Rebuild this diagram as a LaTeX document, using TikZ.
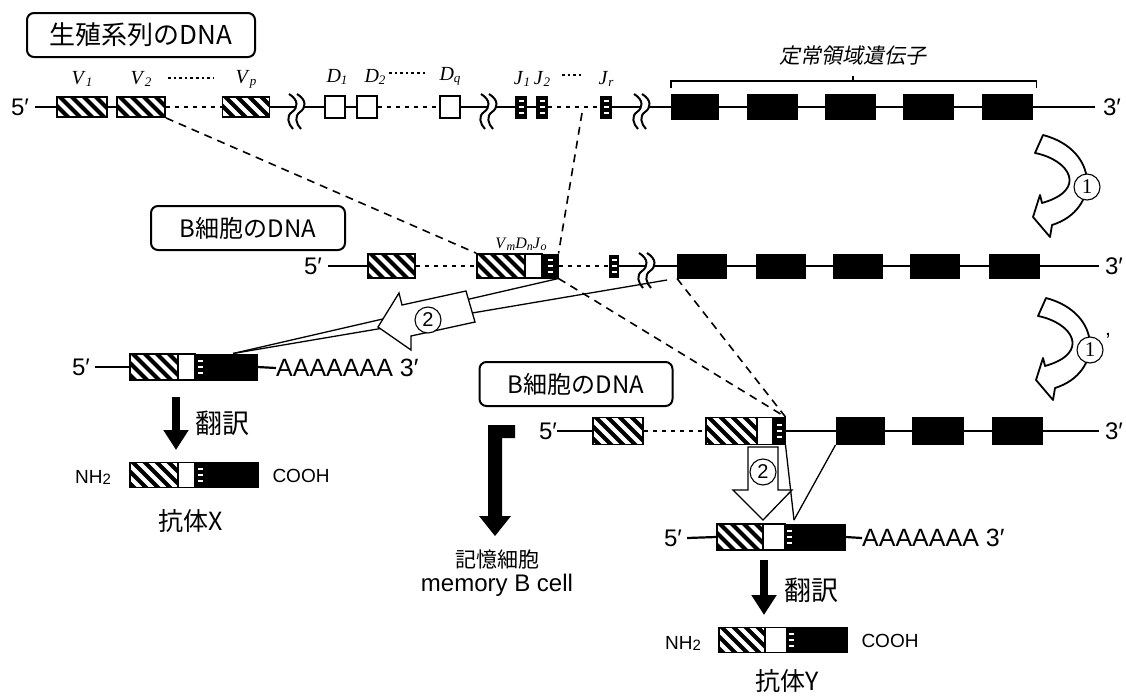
\documentclass[tikz,border=0pt]{standalone}
\usepackage{fontspec}
\setmainfont{Liberation Serif}
\newfontfamily\jp{Noto Sans CJK JP}
\newfontfamily\jpit{Noto Sans CJK JP}[FakeSlant=0.2]
\newfontfamily\ar{Liberation Sans}
\usetikzlibrary{arrows.meta}
\newcommand\fsz[1]{\fontsize{#1}{#1}\selectfont}
\newcommand\lb[3]{\textit{#1}\raisebox{-2pt}{\fsz{#3}\textit{#2}}}
\tikzset{
 brk/.pic={
  \fill[white] (-3,-14) .. controls (7,-8) and (6,0) .. (0,4) .. controls (-6,8) and (-4,16) .. (1,21) -- (9,21) .. controls (4,16) and (2,8) .. (8,4) .. controls (14,0) and (15,-8) .. (5,-14) -- cycle;
  \draw[line width=2pt] (-3,-14) .. controls (7,-8) and (6,0) .. (0,4) .. controls (-6,8) and (-4,16) .. (1,21);
  \draw[line width=2pt] (5,-14) .. controls (15,-8) and (14,0) .. (8,4) .. controls (2,8) and (4,16) .. (9,21);
 },
 bend/.pic={
  \draw[line width=1.8pt, fill=white, line join=round] (8,-50) -- (0,-32) .. controls (35,-25) and (53,5) .. (7,18) -- (5,10) -- (-2,32) -- (15,52) -- (17,40) .. controls (65,25) and (65,-35) .. (8,-50) -- cycle;
 }
}
\begin{document}
\begin{tikzpicture}[x=1pt,y=-1pt,
 every node/.style={inner sep=0pt},
 dna/.style={line width=2.2pt},
 dots/.style={line width=2.6pt, dash pattern=on 4pt off 5pt},
 ldots/.style={line width=2.8pt, dash pattern=on 2.6pt off 3pt},
 guide/.style={line width=1.6pt, dash pattern=on 8pt off 6pt},
 fine/.style={line width=1.3pt},
 blk/.style={draw, fill=black, line width=1pt},
 wht/.style={draw, fill=white, line width=1.8pt},
 hat/.style={wht, path picture={
   \foreach \k in {-4,...,9}{
     \draw[line width=4pt] ([xshift=\k*12pt, yshift=3pt]path picture bounding box.north west) -- ++(32pt,-32pt);
   }}},
 jb/.style={blk, path picture={
   \foreach \k in {-1,0,1}{
     \fill[white] ([xshift=-2.5pt,yshift={\k*6pt-1.3pt}]path picture bounding box.center) rectangle ++(5pt,2.8pt);
   }}},
 lab/.style={draw, line width=2pt, rounded corners=7pt, font=\jp\fsz{24}},
 pr/.style={font=\ar\fsz{24}},
 vl/.style={font=\fsz{20}},
 circ/.style={circle, draw, fill=white, line width=1.1pt, minimum size=26pt, font=\ar\fsz{20}},
 trans/.style={line width=8pt, -{Triangle[width=24pt,length=20pt]}},
 hollow/.style={draw, fill=white, line width=1.3pt, line join=miter},
]
\useasboundingbox (0,0) rectangle (1126,696);

% ---------- labels in boxes
\node[lab, minimum width=228, minimum height=44, font=\jp\fsz{26}] (g) at (141,35) {生殖系列のDNA};
\node[lab, minimum width=194, minimum height=44] (bc1) at (248,228) {B細胞のDNA};
\node[lab, minimum width=193, minimum height=44] (bc2) at (576,384) {B細胞のDNA};

% ---------- row 1 (germline)
\node[pr] (f1) at (20,107) {5′};
\node[hat, minimum width=50, minimum height=20] (v1) at (82,107) {};
\node[hat, minimum width=48, minimum height=20] (v2) at (141,107) {};
\node[hat, minimum width=47, minimum height=20] (vp) at (246,107) {};
\node[wht, minimum width=20, minimum height=22] (d1) at (335,107) {};
\node[wht, minimum width=20, minimum height=22] (d2) at (367,107) {};
\node[wht, minimum width=20, minimum height=22] (dq) at (450,107) {};
\node[jb, minimum width=11, minimum height=22] (j1) at (521,107) {};
\node[jb, minimum width=11, minimum height=22] (j2) at (542,107) {};
\coordinate (jo) at (582,107);
\node[jb, minimum width=11, minimum height=22] (jr) at (606,107) {};
\node[blk, minimum width=47, minimum height=25] (c11) at (695,107) {};
\node[blk, minimum width=50, minimum height=25] (c12) at (772,107) {};
\node[blk, minimum width=50, minimum height=25] (c13) at (850,107) {};
\node[blk, minimum width=50, minimum height=25] (c14) at (928,107) {};
\node[blk, minimum width=50, minimum height=25] (c15) at (1007,107) {};
\node[pr] (t1) at (1112,107) {3′};

\draw[dna] ([xshift=6pt]f1.east) -- (v1.west);
\draw[dna] (v1.east) -- (v2.west);
\draw[dots] (v2.east) -- (vp.west);
\draw[dna] (vp.east) -- (d1.west);
\draw[dna] (d1.east) -- (d2.west);
\draw[dots] (d2.east) -- (dq.west);
\draw[dna] (dq.east) -- (j1.west);
\draw[dna] (j1.east) -- (j2.west);
\draw[dots] (j2.east) -- (jr.west);
\draw[dna] (jr.east) -- (c11.west);
\draw[dna] (c11.east) -- (c12.west);
\draw[dna] (c12.east) -- (c13.west);
\draw[dna] (c13.east) -- (c14.west);
\draw[dna] (c14.east) -- (c15.west);
\draw[dna] (c15.east) -- ([xshift=-8pt]t1.west);
\pic at (292,108) {brk};
\pic at (484,108) {brk};
\pic at (637,108) {brk};

% labels row 1
\node[vl] (lv1) at (82,79) {\lb{V}{1}{13}};
\node[vl] (lv2) at (141,79) {\lb{V}{2}{13}};
\node[vl] (lvp) at (246,79) {\lb{V}{p}{13}};
\node[vl] (ld1) at (337,77) {\lb{D}{1}{13}};
\node[vl] (ld2) at (375,77) {\lb{D}{2}{13}};
\node[vl] (ldq) at (450,76) {\lb{D}{q}{13}};
\node[vl] (lj1) at (522,79) {\lb{J}{1}{13}};
\node[vl] (lj2) at (542,79) {\lb{J}{2}{13}};
\node[vl] (ljr) at (606,79) {\lb{J}{r}{13}};
\draw[ldots] (168,78) -- (214,78);
\draw[ldots] (389,73) -- (428,73);
\draw[ldots] (562,75) -- (584,75);
\draw[line width=1.1pt] ([yshift=6pt]c11.north west) -- ([yshift=13pt]c11.north west) -- ([yshift=13pt,xshift=4pt]c15.north east) -- ([yshift=6pt,xshift=4pt]c15.north east);
\draw[line width=1.1pt] (853,82) -- (853,76);
\node[font=\jpit\fsz{21}] (cl) at (853,56) {定常領域遺伝子};

% ---------- row 2 (B cell)
\node[pr] (f2) at (313,266) {5′};
\node[hat, minimum width=47, minimum height=24] (r1) at (391.5,266) {};
\node[hat, minimum width=48, minimum height=24] (vm) at (501,266) {};
\node[wht, minimum width=17, minimum height=24] (dn) at (533.5,266) {};
\node[jb, minimum width=16, minimum height=24] (jo2) at (550,266) {};
\node[jb, minimum width=9, minimum height=22] (jr2) at (614,266) {};
\node[blk, minimum width=49, minimum height=24] (c21) at (702,266) {};
\node[blk, minimum width=49, minimum height=24] (c22) at (781,266) {};
\node[blk, minimum width=49, minimum height=24] (c23) at (857.5,266) {};
\node[blk, minimum width=49, minimum height=24] (c24) at (935,266) {};
\node[blk, minimum width=50, minimum height=24] (c25) at (1014.5,266) {};
\node[pr] (t2) at (1114,266) {3′};
\node[font=\fsz{16}] (lvdj) at (521,244) {\lb{V}{m}{12}\lb{D}{n}{12}\lb{J}{o}{12}};

\draw[dna] ([xshift=6pt]f2.east) -- (r1.west);
\draw[dots] (r1.east) -- (vm.west);
\draw[dots] (jo2.east) -- (jr2.west);
\draw[dna] (jr2.east) -- (c21.west);
\draw[dna] (c21.east) -- (c22.west);
\draw[dna] (c22.east) -- (c23.west);
\draw[dna] (c23.east) -- (c24.west);
\draw[dna] (c24.east) -- (c25.west);
\draw[dna] (c25.east) -- ([xshift=-6pt]t2.west);
\pic at (642,267) {brk};

% ---------- row 3 (B cell)
\node[pr] (f3) at (548,431) {5′};
\node[hat, minimum width=50, minimum height=27] (s1) at (618,431) {};
\node[hat, minimum width=51, minimum height=27] (vm3) at (731.5,431) {};
\node[wht, minimum width=16, minimum height=27] (dn3) at (765,431) {};
\node[jb, minimum width=12, minimum height=27] (jo3) at (779,431) {};
\node[blk, minimum width=48, minimum height=27] (c31) at (860,431) {};
\node[blk, minimum width=51, minimum height=27] (c32) at (937.5,431) {};
\node[blk, minimum width=50, minimum height=27] (c33) at (1017,431) {};
\node[pr] (t3) at (1114,431) {3′};
\draw[dna] (f3.east) -- (s1.west);
\draw[dots] (s1.east) -- (vm3.west);
\draw[dna] (jo3.east) -- (c31.west);
\draw[dna] (c31.east) -- (c32.west);
\draw[dna] (c32.east) -- (c33.west);
\draw[dna] (c33.east) -- ([xshift=-6pt]t3.west);

% ---------- dashed guides
\draw[guide] (v2.south east) -- (vm.north west);
\draw[guide] ([yshift=-6pt]jo) -- (jo2.north east);
\draw[guide] (jo2.south east) -- (jo3.north east);
\draw[guide] (c21.south west) -- (jo3.north east);

% ---------- mRNA X
\node[pr] (f4) at (81,367) {5′};
\node[hat, minimum width=48, minimum height=26] (m1) at (154,367) {};
\node[wht, minimum width=17, minimum height=26] (m2) at (186.5,367) {};
\node[jb, minimum width=10, minimum height=26] (m3) at (200,367) {};
\node[blk, minimum width=52, minimum height=26] (m4) at (231,367) {};
\node[pr, anchor=west, font=\ar\fsz{25}] (ax) at (276,368) {AAAAAAA 3′};
\draw[dna] ([xshift=5pt]f4.east) -- (m1.west);
\draw[dna] (m4.east) -- (ax.west);

% protein X
\node[hat, minimum width=48, minimum height=25] (p1) at (154,475) {};
\node[wht, minimum width=17, minimum height=25] (p2) at (186.5,475) {};
\node[jb, minimum width=10, minimum height=25] (p3) at (200,475) {};
\node[blk, minimum width=52, minimum height=25] (p4) at (232,475) {};
\node[font=\ar\fsz{19}] (nx) at (93,477) {NH\raisebox{-1pt}{\fsz{15}2}};
\node[font=\ar\fsz{19}] (cx) at (301,476) {COOH};
\node[font=\jp\fsz{25}] (abx) at (191,521) {抗体X};
\coordinate (ax1) at (176,397);
\coordinate (ax2) at (176,450);
\draw[trans] (ax1) -- (ax2);
\node[font=\jp\fsz{27}] (trx) at (222,423) {翻訳};

% ---------- connectors from row 2 to mRNA X (thin) and hollow arrow 2
\coordinate (xm) at ([xshift=2pt]m4.north);
\coordinate (bk) at (667,280);
\draw[fine] (jo2.south east) -- (xm);
\draw[fine] (bk) -- (xm);
\draw[hollow] (466,291) -- (402,305) -- (399,293) -- (378,327) -- (411,350) -- (411,336) -- (475,322) -- cycle;
\node[circ] (o2a) at (428,320) {2};

% ---------- mRNA Y
\node[pr] (f5) at (673,538) {5′};
\node[hat, minimum width=46, minimum height=26] (n1) at (740,537) {};
\node[wht, minimum width=22, minimum height=26] (n2) at (774,537) {};
\node[jb, minimum width=9, minimum height=26] (n3) at (789.5,537) {};
\node[blk, minimum width=51, minimum height=26] (n4) at (819.5,537) {};
\node[pr, anchor=west, font=\ar\fsz{25}] (ay) at (862,538) {AAAAAAA 3′};
\draw[dna] ([xshift=5pt]f5.east) -- (n1.west);
\draw[dna] (n4.east) -- (ay.west);

% protein Y
\node[hat, minimum width=46, minimum height=25] (q1) at (742,640) {};
\node[wht, minimum width=22, minimum height=25] (q2) at (776,640) {};
\node[jb, minimum width=9, minimum height=25] (q3) at (791.5,640) {};
\node[blk, minimum width=51, minimum height=25] (q4) at (821.5,640) {};
\node[font=\ar\fsz{19}] (ny) at (683,643) {NH\raisebox{-1pt}{\fsz{15}2}};
\node[font=\ar\fsz{19}] (cy) at (890,641) {COOH};
\node[font=\jp\fsz{25}] (aby) at (787,681) {抗体Y};
\coordinate (ay1) at (764,560);
\coordinate (ay2) at (764,615);
\draw[trans] (ay1) -- (ay2);
\node[font=\jp\fsz{27}] (try) at (811,590) {翻訳};

% row 3 to mRNA Y
\coordinate (vy) at (794,520);
\draw[fine] (jo3.south east) -- (vy);
\draw[fine] (c31.south west) -- (vy);
\draw[hollow] (748,447) -- (748,490) -- (733,490) -- (763,520) -- (792,490) -- (778,490) -- (778,447) -- cycle;
\node[circ] (o2b) at (763,472) {2};

% ---------- memory B cell arrow
\fill (488,425) -- (515,425) -- (515,438) -- (502,438) -- (502,516) -- (511,516) -- (495,536) -- (479,516) -- (488,516) -- cycle;
\node[font=\jp\fsz{21}] (mem1) at (497,560) {記憶細胞};
\node[font=\ar\fsz{24}] (mem2) at (497,585) {memory B cell};

% ---------- curved arrows 1 and 1'
\pic at (1035,185) {bend};
\node[circ, font=\fsz{21}] (o1) at (1087,187) {1};
\pic at (1038,348) {bend};
\node[circ, font=\fsz{21}] (o1b) at (1090,350) {1};
\node[font=\ar\fsz{22}] (pr1) at (1108,341) {’};
\end{tikzpicture}
\end{document}
